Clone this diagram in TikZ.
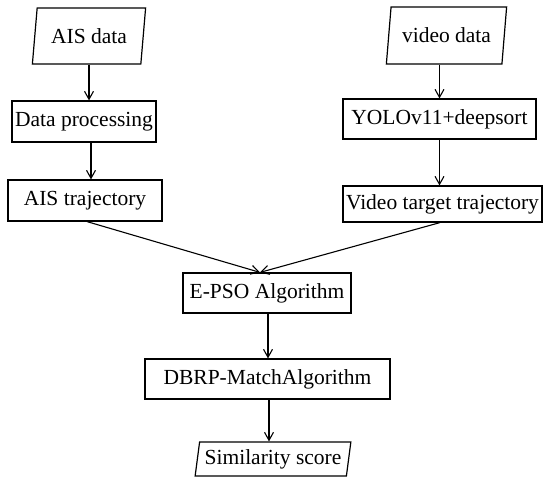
\documentclass[tikz,border=0pt]{standalone}
\usepackage{fontspec}
\setmainfont{Liberation Serif}
\usetikzlibrary{arrows.meta,shapes.geometric}
\begin{document}
\begin{tikzpicture}[x=1pt,y=-1pt,
  box/.style={draw,line width=1.2pt,rectangle,inner sep=0pt,font=\fontsize{21.5}{25}\selectfont},
  para/.style={draw,line width=1.2pt,trapezium,trapezium stretches=true,inner sep=0pt,font=\fontsize{21.5}{25}\selectfont},
  arr/.style={line width=1.1pt,-{Straight Barb[length=8pt,width=9pt,line width=1.1pt]}}]
\useasboundingbox (0,0) rectangle (550,489);
\fill[white] (0,0) rectangle (550,489);
\node[para,trapezium left angle=77,trapezium right angle=103,minimum width=114pt,minimum height=56pt] (ais) at (89,36) {AIS data};
\node[para,trapezium left angle=76,trapezium right angle=104,minimum width=121pt,minimum height=57pt] (vd) at (446.5,35.5) {video data};
\node[box,minimum width=144pt,minimum height=41pt] (dp) at (84,121.5) {Data processing};
\node[box,minimum width=154pt,minimum height=41pt] (traj) at (85,200.5) {AIS trajectory};
\node[box,minimum width=193pt,minimum height=40pt] (yolo) at (439.5,119) {YOLOv11+deepsort};
\node[box,minimum width=199pt,minimum height=36pt] (vtt) at (442.5,204) {Video target trajectory};
\node[box,minimum width=168pt,minimum height=40pt] (epso) at (267,293) {E-PSO Algorithm};
\node[box,minimum width=245pt,minimum height=40pt] (dbrp) at (267.5,379) {DBRP-MatchAlgorithm};
\node[para,trapezium left angle=78,trapezium right angle=102,minimum width=156pt,minimum height=34pt] (sim) at (273,459) {Similarity score};
\draw[arr] (ais.south) -- (ais.south |- dp.north);
\draw[arr] ([xshift=7pt]dp.south) -- ([xshift=7pt]dp.south |- traj.north);
\draw[arr] (yolo.north |- vd.south) -- (yolo.north);
\draw[arr] (yolo.south) -- (yolo.south |- vtt.north);
\draw[arr] ([xshift=2pt]traj.south) -- ([xshift=-7pt]epso.north);
\draw[arr] ([xshift=-2.5pt]vtt.south) -- ([xshift=-7pt]epso.north);
\draw[arr] ([xshift=1pt]epso.south) -- ([xshift=1pt]epso.south |- dbrp.north);
\draw[arr] ([xshift=1.5pt]dbrp.south) -- ([xshift=1.5pt]dbrp.south |- sim.north);
\end{tikzpicture}
\end{document}
